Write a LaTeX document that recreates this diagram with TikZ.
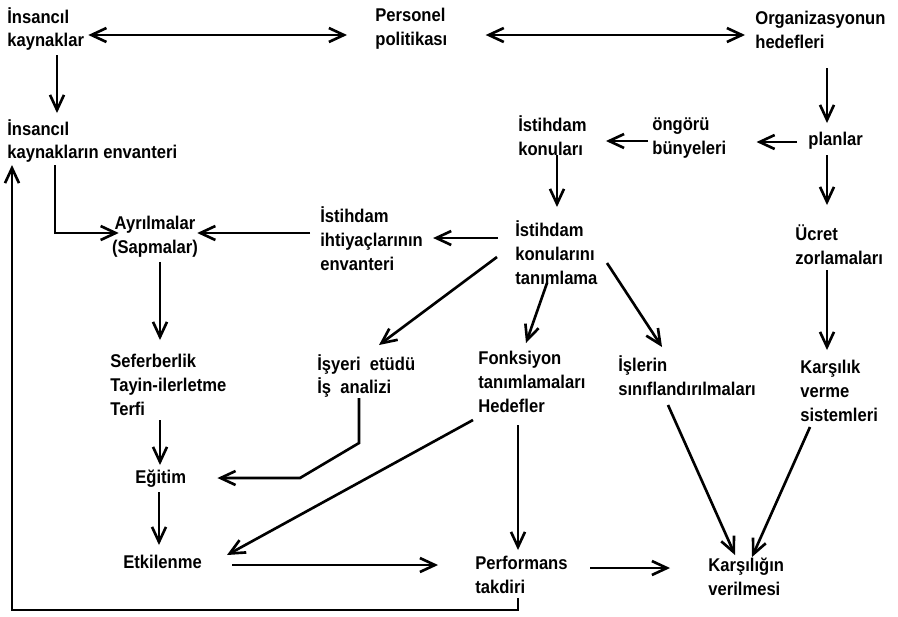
\documentclass[tikz,border=0pt]{standalone}
\usepackage{fontspec}
\setmainfont{Liberation Sans}[FakeStretch=0.9]
\usepackage{tikz}
\usetikzlibrary{arrows.meta,calc}

\begin{document}
\begin{tikzpicture}[
    x=0.02cm, y=-0.02cm,
    lbl/.style={font=\bfseries\fontsize{10.5}{13.6}\selectfont, align=left, inner sep=0pt, anchor=west},
    lblc/.style={lbl, align=center},
    arr/.style={-{Straight Barb[length=3mm,width=2.8mm]}, line width=1.5pt},
    dbl/.style={{Straight Barb[length=3mm,width=2.8mm]}-{Straight Barb[length=3mm,width=2.8mm]}, line width=1.5pt}
  ]
  \useasboundingbox (0,0) rectangle (898,616);
  \node[lbl] (hr) at (7,29) {İnsancıl\\kaynaklar};
  \node[lbl] (pol) at (375,29) {Personel\\politikası};
  \node[lbl] (org) at (755,30) {Organizasyonun\\hedefleri};
  \node[lbl] (hrinv) at (7,141) {İnsancıl\\kaynakların envanteri};
  \node[lbl] (ist) at (518,136) {İstihdam\\konuları};
  \node[lbl] (ong) at (652,138) {öngörü\\bünyeleri};
  \node[lbl] (plan) at (808,141) {planlar};
  \node[lblc, anchor=center] (ayr) at (155,237) {Ayrılmalar\\(Sapmalar)};
  \node[lbl] (ihtinv) at (320,239) {İstihdam\\ihtiyaçlarının\\envanteri};
  \node[lbl] (tan) at (515,253) {İstihdam\\konularını\\tanımlama};
  \node[lbl] (ucret) at (795,245) {Ücret\\zorlamaları};
  \node[lbl] (sef) at (110,385) {Seferberlik\\Tayin-ilerletme\\Terfi};
  \node[lbl] (isy) at (317,376) {İşyeri\ \ etüdü\\İş\ \ analizi};
  \node[lbl] (fonk) at (478,382) {Fonksiyon\\tanımlamaları\\Hedefler};
  \node[lbl] (isl) at (618,376) {İşlerin\\sınıflandırılmaları};
  \node[lbl] (kars) at (800,391) {Karşılık\\verme\\sistemleri};
  \node[lbl] (egit) at (135,479) {Eğitim};
  \node[lbl] (etk) at (123,562) {Etkilenme};
  \node[lbl] (perf) at (475,575) {Performans\\takdiri};
  \node[lbl] (karsv) at (708,577) {Karşılığın\\verilmesi};

  \draw[dbl] ($(hr.east)+(4,6)$) -- ($(pol.west)+(-28,6)$);
  \draw[dbl] ($(pol.east)+(38,6)$) -- ($(org.west)+(-10,5)$);
  \draw[arr] ($(hr.west)+(50,26)$) -- ($(hrinv.west)+(50,-28)$);
  \draw[arr] ($(org.west)+(72,38)$) -- ($(plan.west)+(19,-18)$);
  \draw[arr] ($(plan.west)+(-11,1)$) -- ($(ong.east)+(30,4)$);
  \draw[arr] ($(ong.west)+(-4,3)$) -- ($(ist.east)+(19,5)$);
  \draw[arr] ($(ist.west)+(39,19)$) -- ($(tan.west)+(42,-46)$);
  \draw[arr] ($(plan.west)+(19,14)$) -- ($(ucret.west)+(32,-40)$);
  \draw[arr] ($(hrinv.west)+(48,24)$) |- ($(ayr.west)+(7,-4)$);
  \draw[arr] ($(ihtinv.west)+(-10,-6)$) -- ($(ayr.east)+(-1,-4)$);
  \draw[arr] ($(tan.west)+(-17,-15)$) -- ($(ihtinv.east)+(10,-1)$);
  \draw[arr] ($(ayr.south)+(5,4)$) -- ($(sef.west)+(50,-45)$);
  \draw[arr] ($(tan.west)+(-18,4)$) -- ($(isy.west)+(62,-31)$);
  \draw[arr] ($(tan.west)+(32,30)$) -- ($(fonk.west)+(48,-39)$);
  \draw[arr] ($(tan.west)+(92,10)$) -- ($(isl.west)+(44,-29)$);
  \draw[arr] ($(ucret.west)+(32,25)$) -- ($(kars.west)+(27,-41)$);
  \draw[arr] ($(sef.west)+(50,35)$) -- ($(egit.west)+(25,-14)$);
  \draw[arr] ($(isy.west)+(42,22)$) -- ++(0,45) -- ++(-59,35) -- ($(egit.east)+(31,-1)$);
  \draw[arr] ($(egit.west)+(24,13)$) -- ($(etk.west)+(36,-17)$);
  \draw[arr] ($(fonk.west)+(-5,38)$) -- ($(etk.west)+(104,-7)$);
  \draw[arr] ($(fonk.west)+(40,43)$) -- ($(perf.west)+(43,-25)$);
  \draw[arr] ($(etk.west)+(109,3)$) -- ($(perf.west)+(-37,-10)$);
  \draw[arr] ($(perf.west)+(115,-7)$) -- ($(karsv.west)+(-38,-9)$);
  \draw[arr] ($(isl.west)+(50,29)$) -- ($(karsv.west)+(27,-22)$);
  \draw[arr] ($(kars.west)+(10,36)$) -- ($(karsv.west)+(44,-20)$);
  \draw[arr] ($(perf.west)+(43,23)$) -- ++(0,12) -| ($(hrinv.west)+(5,24)$);
\end{tikzpicture}
\end{document}
